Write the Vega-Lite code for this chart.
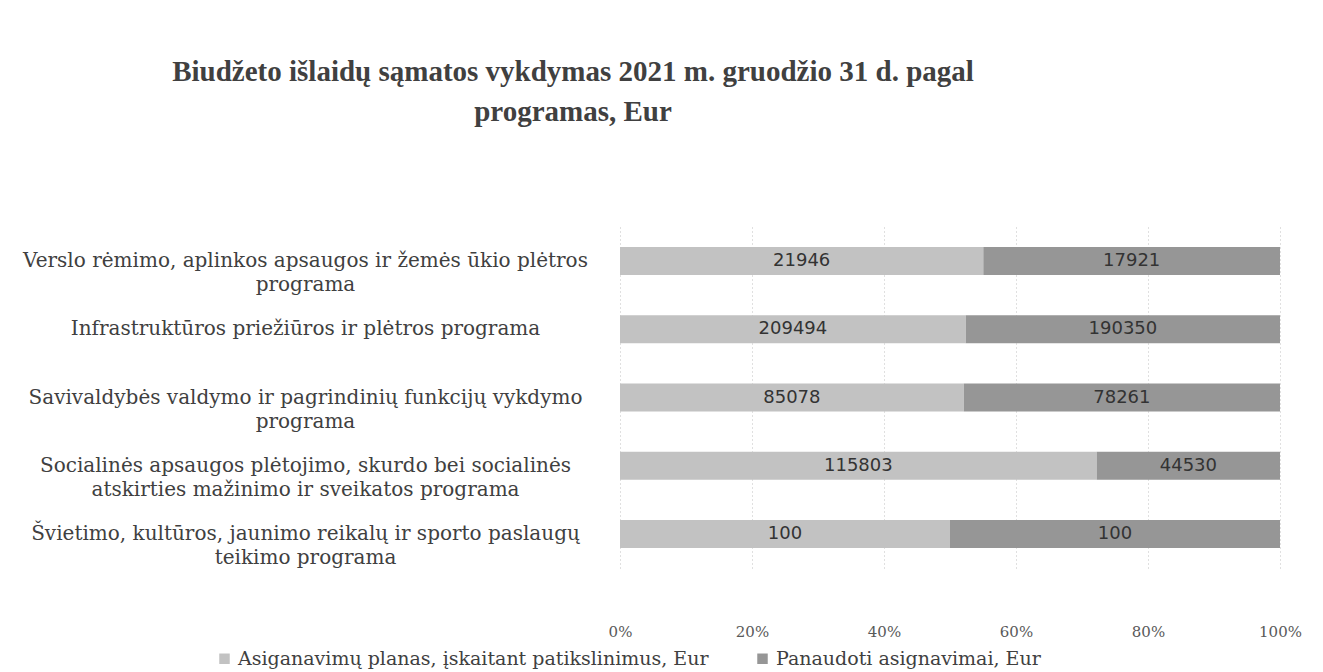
{
  "$schema": "https://vega.github.io/schema/vega-lite/v6.json",
  "autosize": "none",
  "width": 660,
  "height": 341,
  "padding": {"left": 620, "top": 227, "right": 43, "bottom": 104},
  "background": "white",
  "title": {
    "text": ["Biudžeto išlaidų sąmatos vykdymas 2021 m. gruodžio 31 d. pagal", "programas, Eur"],
    "font": "Liberation Serif",
    "fontSize": 29,
    "fontWeight": "bold",
    "color": "#404040",
    "lineHeight": 40,
    "anchor": "middle",
    "frame": "group",
    "dx": -377,
    "offset": 100
  },
  "data": {
    "values": [
      {"program": "Verslo rėmimo, aplinkos apsaugos ir žemės ūkio plėtros|programa", "porder": 1, "series": "Asiganavimų planas, įskaitant patikslinimus, Eur", "sorder": 1, "value": 21946},
      {"program": "Verslo rėmimo, aplinkos apsaugos ir žemės ūkio plėtros|programa", "porder": 1, "series": "Panaudoti asignavimai, Eur", "sorder": 2, "value": 17921},
      {"program": "Infrastruktūros priežiūros ir plėtros programa", "porder": 2, "series": "Asiganavimų planas, įskaitant patikslinimus, Eur", "sorder": 1, "value": 209494},
      {"program": "Infrastruktūros priežiūros ir plėtros programa", "porder": 2, "series": "Panaudoti asignavimai, Eur", "sorder": 2, "value": 190350},
      {"program": "Savivaldybės valdymo ir pagrindinių funkcijų vykdymo|programa", "porder": 3, "series": "Asiganavimų planas, įskaitant patikslinimus, Eur", "sorder": 1, "value": 85078},
      {"program": "Savivaldybės valdymo ir pagrindinių funkcijų vykdymo|programa", "porder": 3, "series": "Panaudoti asignavimai, Eur", "sorder": 2, "value": 78261},
      {"program": "Socialinės apsaugos plėtojimo, skurdo bei socialinės|atskirties mažinimo ir sveikatos programa", "porder": 4, "series": "Asiganavimų planas, įskaitant patikslinimus, Eur", "sorder": 1, "value": 115803},
      {"program": "Socialinės apsaugos plėtojimo, skurdo bei socialinės|atskirties mažinimo ir sveikatos programa", "porder": 4, "series": "Panaudoti asignavimai, Eur", "sorder": 2, "value": 44530},
      {"program": "Švietimo, kultūros, jaunimo reikalų ir sporto paslaugų|teikimo programa", "porder": 5, "series": "Asiganavimų planas, įskaitant patikslinimus, Eur", "sorder": 1, "value": 100},
      {"program": "Švietimo, kultūros, jaunimo reikalų ir sporto paslaugų|teikimo programa", "porder": 5, "series": "Panaudoti asignavimai, Eur", "sorder": 2, "value": 100}
    ]
  },
  "transform": [
    {"stack": "value", "groupby": ["program"], "sort": [{"field": "sorder"}], "offset": "normalize", "as": ["x0", "x1"]},
    {"calculate": "(datum.x0 + datum.x1) / 2", "as": "xmid"}
  ],
  "encoding": {
    "y": {
      "field": "program",
      "type": "nominal",
      "sort": {"field": "porder", "order": "ascending"},
      "scale": {"paddingInner": 0.59, "paddingOuter": 0.295},
      "axis": {
        "title": null,
        "ticks": false,
        "domain": false,
        "labelExpr": "split(datum.label, '|')",
        "labelAlign": "center",
        "labelPadding": 315,
        "labelFont": "DejaVu Serif",
        "labelFontSize": 20,
        "labelColor": "#404040",
        "labelLineHeight": 24,
        "labelLimit": 700
      }
    }
  },
  "layer": [
    {
      "mark": {"type": "bar"},
      "encoding": {
        "x": {
          "field": "x0",
          "type": "quantitative",
          "scale": {"domain": [0, 1], "nice": false},
          "axis": {
            "title": null,
            "format": ".0%",
            "values": [0, 0.2, 0.4, 0.6, 0.8, 1],
            "grid": true,
            "gridColor": "#c0c0c0",
            "gridDash": [1, 3],
            "domain": false,
            "ticks": false,
            "labelOverlap": false,
            "labelBound": false,
            "labelFlush": false,
            "labelPadding": 56,
            "labelFont": "DejaVu Serif",
            "labelFontSize": 15,
            "labelColor": "#595959"
          }
        },
        "x2": {"field": "x1"},
        "color": {
          "field": "series",
          "type": "nominal",
          "scale": {
            "domain": ["Asiganavimų planas, įskaitant patikslinimus, Eur", "Panaudoti asignavimai, Eur"],
            "range": ["#c2c2c2", "#969696"]
          },
          "legend": {
            "title": null,
            "orient": "none",
            "direction": "horizontal",
            "legendX": -405,
            "legendY": 422,
            "symbolType": "square",
            "symbolSize": 110,
            "symbolStrokeWidth": 0,
            "labelFont": "DejaVu Serif",
            "labelFontSize": 19,
            "labelColor": "#404040",
            "columnPadding": 44,
            "labelLimit": 700
          }
        }
      }
    },
    {
      "mark": {"type": "text", "font": "DejaVu Sans", "fontSize": 18, "color": "#333333"},
      "encoding": {
        "x": {"field": "xmid", "type": "quantitative"},
        "text": {"field": "value", "type": "quantitative", "format": "d"}
      }
    }
  ],
  "config": {
    "view": {"stroke": null}
  }
}
